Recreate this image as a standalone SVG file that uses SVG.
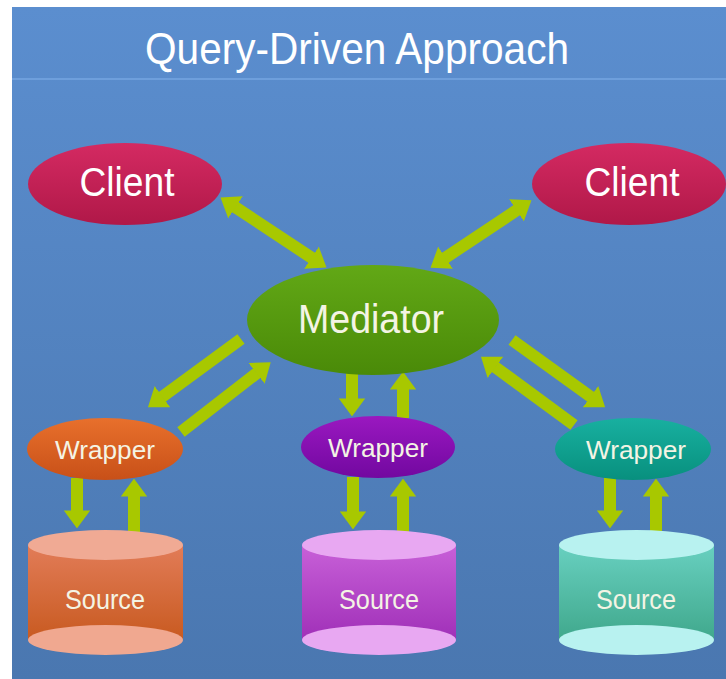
<svg xmlns="http://www.w3.org/2000/svg" width="726" height="679" viewBox="0 0 726 679">
<defs>
<linearGradient id="bg" x1="0" y1="0" x2="0" y2="1"><stop offset="0" stop-color="#5b8ecf"/><stop offset="1" stop-color="#4a77b0"/></linearGradient>
<linearGradient id="gClient" x1="0" y1="0" x2="0" y2="1"><stop offset="0" stop-color="#d42a62"/><stop offset="1" stop-color="#b01848"/></linearGradient>
<linearGradient id="gMed" x1="0" y1="0" x2="0" y2="1"><stop offset="0" stop-color="#62a816"/><stop offset="1" stop-color="#4a8a08"/></linearGradient>
<linearGradient id="gWO" x1="0" y1="0" x2="0" y2="1"><stop offset="0" stop-color="#e8702c"/><stop offset="1" stop-color="#c85018"/></linearGradient>
<linearGradient id="gWP" x1="0" y1="0" x2="0" y2="1"><stop offset="0" stop-color="#9a18c0"/><stop offset="1" stop-color="#7208a0"/></linearGradient>
<linearGradient id="gWT" x1="0" y1="0" x2="0" y2="1"><stop offset="0" stop-color="#18b0a0"/><stop offset="1" stop-color="#08907e"/></linearGradient>
<linearGradient id="gSO" x1="0" y1="0" x2="0" y2="1"><stop offset="0" stop-color="#e27c58"/><stop offset="1" stop-color="#c85a20"/></linearGradient>
<linearGradient id="gSP" x1="0" y1="0" x2="0" y2="1"><stop offset="0" stop-color="#c860d8"/><stop offset="1" stop-color="#a030b8"/></linearGradient>
<linearGradient id="gST" x1="0" y1="0" x2="0" y2="1"><stop offset="0" stop-color="#68d0c0"/><stop offset="1" stop-color="#40a88c"/></linearGradient>
<marker id="ah" markerUnits="strokeWidth" markerWidth="1.5" markerHeight="2.2" viewBox="0 0 15 22" refX="0.5" refY="11" orient="auto-start-reverse">
<path d="M0,0 L15,11 L0,22 z" fill="#a8c800"/>
</marker>
</defs>
<style>
.lbl{font-family:"Liberation Sans","Noto Sans",sans-serif;fill:#ffffff;text-anchor:middle}
.sm{fill:#f4f4e4}
.arr{stroke:#a8c800;stroke-width:12;fill:none}
.one{marker-end:url(#ah)}
.two{marker-start:url(#ah);marker-end:url(#ah)}
</style>
<rect x="0" y="0" width="726" height="679" fill="#ffffff"/>
<rect x="12" y="7" width="714" height="672" fill="url(#bg)"/>
<line x1="12" y1="79" x2="726" y2="79" stroke="#6e9fdc" stroke-width="2"/>
<text class="lbl" x="357" y="64" font-size="44" textLength="424" lengthAdjust="spacingAndGlyphs">Query-Driven Approach</text>

<g id="connectors">
<line class="arr two" x1="235" y1="207" x2="312" y2="258"/>
<line class="arr two" x1="517" y1="210" x2="445" y2="258"/>
<line class="arr one" x1="241" y1="339" x2="162" y2="397"/>
<line class="arr one" x1="181" y1="432" x2="257" y2="373"/>
<line class="arr one" x1="512" y1="340" x2="591" y2="397"/>
<line class="arr one" x1="574" y1="425" x2="495" y2="367"/>
<line class="arr one" x1="352" y1="372" x2="352" y2="399"/>
<line class="arr one" x1="403" y1="418" x2="403" y2="389"/>
<line class="arr one" x1="77" y1="478" x2="77" y2="511"/>
<line class="arr one" x1="134" y1="532" x2="134" y2="496"/>
<line class="arr one" x1="353" y1="477" x2="353" y2="512"/>
<line class="arr one" x1="403" y1="532" x2="403" y2="496"/>
<line class="arr one" x1="610" y1="478" x2="610" y2="511"/>
<line class="arr one" x1="656" y1="532" x2="656" y2="496"/>
</g>

<g id="client-left">
<ellipse cx="125" cy="184" rx="97" ry="41" fill="url(#gClient)"/>
<text class="lbl" x="127" y="196" font-size="41" textLength="95" lengthAdjust="spacingAndGlyphs">Client</text>
</g>
<g id="client-right">
<ellipse cx="629" cy="184" rx="97" ry="41" fill="url(#gClient)"/>
<text class="lbl" x="632" y="196" font-size="41" textLength="95" lengthAdjust="spacingAndGlyphs">Client</text>
</g>
<g id="mediator">
<ellipse cx="373" cy="320" rx="126" ry="55" fill="url(#gMed)"/>
<text class="lbl sm" x="371" y="333" font-size="40" textLength="146" lengthAdjust="spacingAndGlyphs">Mediator</text>
</g>

<g id="wrapper-left">
<ellipse cx="105" cy="449" rx="78" ry="31" fill="url(#gWO)"/>
<text class="lbl sm" x="105" y="459" font-size="26" textLength="100" lengthAdjust="spacingAndGlyphs">Wrapper</text>
</g>
<g id="wrapper-mid">
<ellipse cx="378" cy="447" rx="77" ry="31" fill="url(#gWP)"/>
<text class="lbl sm" x="378" y="457" font-size="26" textLength="100" lengthAdjust="spacingAndGlyphs">Wrapper</text>
</g>
<g id="wrapper-right">
<ellipse cx="633" cy="449" rx="78" ry="31" fill="url(#gWT)"/>
<text class="lbl sm" x="636" y="459" font-size="26" textLength="100" lengthAdjust="spacingAndGlyphs">Wrapper</text>
</g>

<g id="source-left">
<rect x="28" y="545" width="155" height="95" fill="url(#gSO)"/>
<ellipse cx="105.5" cy="640" rx="77.5" ry="15" fill="#f0a890"/>
<ellipse cx="105.5" cy="545" rx="77.5" ry="15" fill="#f0aa94"/>
<text class="lbl sm" x="105" y="609" font-size="28" textLength="80" lengthAdjust="spacingAndGlyphs">Source</text>
</g>
<g id="source-mid">
<rect x="302" y="545" width="154" height="95" fill="url(#gSP)"/>
<ellipse cx="379" cy="640" rx="77" ry="15" fill="#e8a8f2"/>
<ellipse cx="379" cy="545" rx="77" ry="15" fill="#e8a8f2"/>
<text class="lbl sm" x="379" y="609" font-size="28" textLength="80" lengthAdjust="spacingAndGlyphs">Source</text>
</g>
<g id="source-right">
<rect x="559" y="545" width="155" height="95" fill="url(#gST)"/>
<ellipse cx="636.5" cy="640" rx="77.5" ry="15" fill="#b8f2f0"/>
<ellipse cx="636.5" cy="545" rx="77.5" ry="15" fill="#b8f2f0"/>
<text class="lbl sm" x="636" y="609" font-size="28" textLength="80" lengthAdjust="spacingAndGlyphs">Source</text>
</g>
</svg>
